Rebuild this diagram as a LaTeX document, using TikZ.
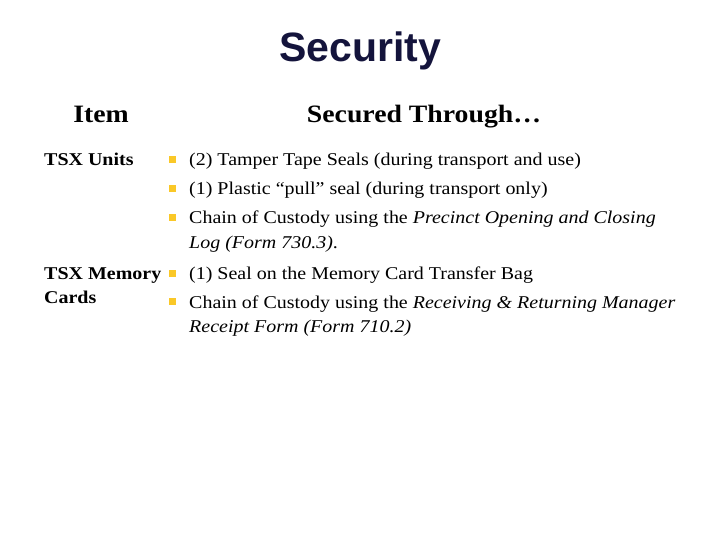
\documentclass[tikz,border=0pt]{standalone}
\usepackage{fontspec}
\setmainfont{Liberation Serif}[FakeStretch=1.11]
\newfontfamily\titlefont{Liberation Sans}
\definecolor{navy}{RGB}{20,20,60}
\definecolor{bul}{RGB}{250,200,40}
\begin{document}
\begin{tikzpicture}[x=1pt,y=-1pt,
  txt/.style={anchor=base west,inner sep=0pt,font=\fontsize{18}{20}\selectfont},
  hdr/.style={anchor=base,inner sep=0pt,font=\fontsize{25}{28}\selectfont\bfseries},
  bsq/.style={fill=bul,minimum size=7pt,inner sep=0pt}]
\useasboundingbox (0,0) rectangle (720,540);
\node[anchor=base,inner sep=0pt,text=navy,font=\fontsize{41}{44}\selectfont\titlefont\bfseries] (title) at (360,62) {Security};
\node[hdr] (h1) at (101,123) {Item};
\node[hdr] (h2) at (424,123) {Secured Through…};
\node[txt,font=\fontsize{18}{20}\selectfont\bfseries] (i1) at (44,166) {TSX Units};
\node[txt,font=\fontsize{18}{20}\selectfont\bfseries] (i2) at (44,279) {TSX Memory};
\node[txt,font=\fontsize{18}{20}\selectfont\bfseries] (i3) at (44,303) {Cards};
\foreach \y in {160,189,218,273,301} \node[bsq] at (172.5,\y) {};
\node[txt] (a) at (189,166) {(2) Tamper Tape Seals (during transport and use)};
\node[txt] (b) at (189,195) {(1) Plastic “pull” seal (during transport only)};
\node[txt] (c) at (189,224) {Chain of Custody using the \textit{Precinct Opening and Closing}};
\node[txt] (c2) at (189,248) {\textit{Log (Form 730.3)}.};
\node[txt] (d) at (189,279) {(1) Seal on the Memory Card Transfer Bag};
\node[txt] (e) at (189,308) {Chain of Custody using the \textit{Receiving \& Returning Manager}};
\node[txt] (e2) at (189,332) {\textit{Receipt Form (Form 710.2)}};
\end{tikzpicture}
\end{document}
